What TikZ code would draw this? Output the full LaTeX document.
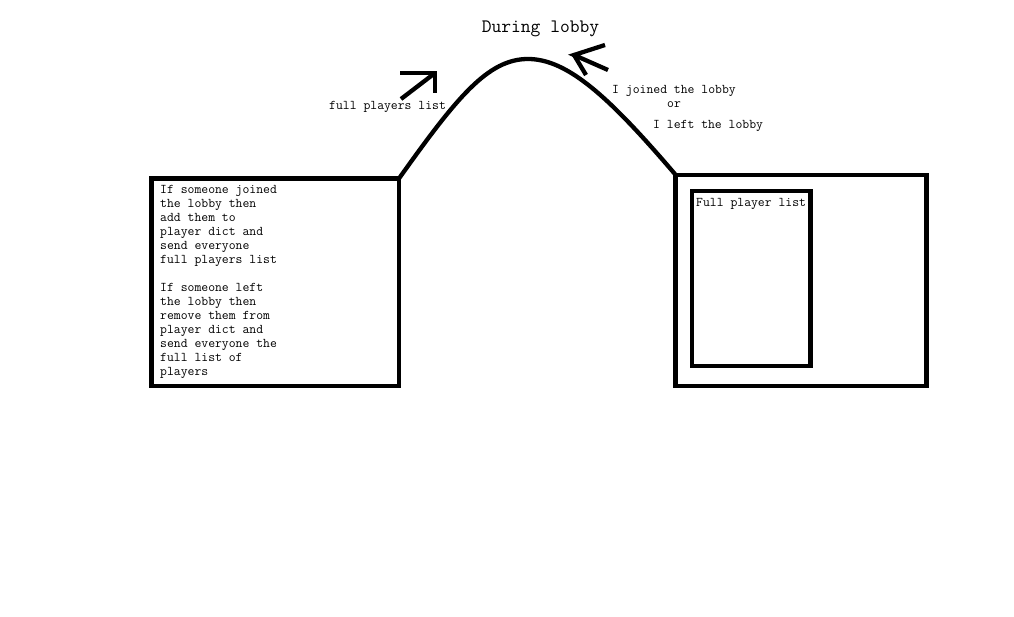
\documentclass[tikz,border=0pt]{standalone}
\usepackage{fontspec}
\begin{document}
\begin{tikzpicture}[x=1pt,y=-1pt,
  thick line/.style={line width=4.3pt,line join=miter},
  boxstyle/.style={draw,line width=4.3pt,inner sep=0pt,outer sep=0pt},
  small/.style={font=\ttfamily\fontsize{13.33}{14}\selectfont,inner sep=0pt,text=black},
  big/.style={font=\ttfamily\fontsize{19}{22}\selectfont,inner sep=0pt,text=black}]
\useasboundingbox[fill=white] (0,0) rectangle (1014,617);
% boxes
\node[boxstyle,minimum width=247.5pt,minimum height=207.5pt,anchor=north west] (left) at (151.5,178.5) {};
\node[boxstyle,minimum width=251pt,minimum height=211pt,anchor=north west] (right) at (675.5,174.7) {};
\node[boxstyle,minimum width=118.5pt,minimum height=174.7pt,anchor=north west] (inner) at (692,191.3) {};
% texts
\node[small,align=left,anchor=base west] (lefttext) at (160,375) {If someone joined\\the lobby then\\add them to\\player dict and\\send everyone\\full players list\\[14pt]If someone left\\the lobby then\\remove them from\\player dict and\\send everyone the\\full list of\\players};
\node[small,anchor=base west] (innertext) at (696,206.5) {Full player list};
\node[big,anchor=base] (title) at (540.5,32.5) {During lobby};
\node[small,anchor=base west] (sendlabel) at (329,110) {full players list};
\node[small,anchor=base west] (joinlabel) at (612,93.3) {I joined the lobby};
\node[small,anchor=base] (orlabel) at (674,108) {or};
\node[small,anchor=base west] (leftlabel) at (653,128.3) {I left the lobby};
% curve
\coordinate (peak) at (528,59);
\draw[thick line] (left.north east) .. controls (457,97) and (488,59) .. (peak)
  .. controls (568,59) and (610,98) .. (right.north west);
% arrows
\coordinate (a1s) at (401,99);
\coordinate (a1t) at (435,73);
\draw[thick line] (a1s) -- (a1t);
\draw[thick line] (400,72.7) -- (435,72.7) -- (435,93);
\coordinate (a2t) at (574,55);
\coordinate (a2s) at (586,75);
\draw[thick line] (a2s) -- (a2t);
\draw[thick line] (605,45) -- (a2t) -- (608,70);
\end{tikzpicture}
\end{document}
